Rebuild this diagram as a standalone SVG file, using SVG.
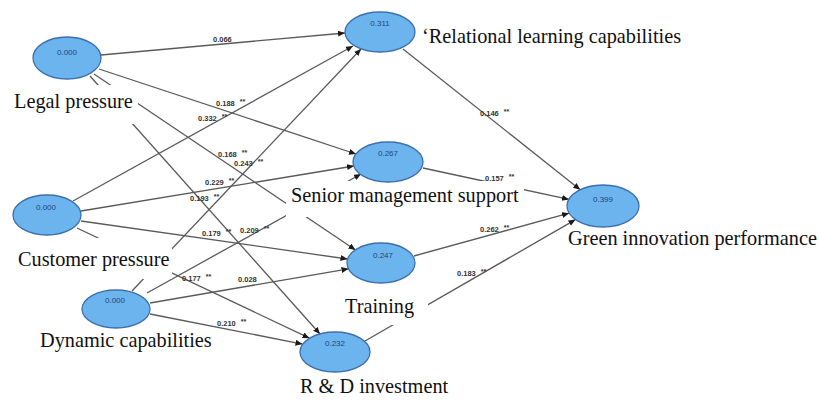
<svg xmlns="http://www.w3.org/2000/svg" width="819" height="404" viewBox="0 0 819 404">
<style>
.bg{fill:#ffffff}
.ln{stroke:#5a5a5a;stroke-width:1.3;fill:none;marker-end:url(#ah)}
.nd{fill:#6cb4ee;stroke:#3d6fae;stroke-width:1.3}
.v{font-family:"Liberation Sans",Arial,sans-serif;font-size:8px;fill:#23467a;text-anchor:middle}
.lb{font-family:"Liberation Serif","Times New Roman",serif;font-size:20.3px;fill:#111}
.box{fill:#ffffff}
.c{font-family:"Liberation Sans",Arial,sans-serif;font-size:7.5px;font-weight:bold;fill:#333}
.s{font-size:7px}
</style>
<defs>
<marker id="ah" markerUnits="userSpaceOnUse" markerWidth="8" markerHeight="7" refX="7" refY="3" orient="auto">
<path d="M0,0 L7,3 L0,6 z" fill="#1a1a1a"/>
</marker>
</defs>
<rect class="bg" x="0" y="0" width="819" height="404"/>
<g id="connectors">
<path class="ln" d="M101,55 L345,33"/>
<path class="ln" d="M99,69 L356,154"/>
<path class="ln" d="M94,74 L355.5,250"/>
<path class="ln" d="M90,76 L320,334"/>
<path class="ln" d="M73,201 L353,46"/>
<path class="ln" d="M81,211 L354,166"/>
<path class="ln" d="M81,221 L347.5,259"/>
<path class="ln" d="M77,228 L309.5,338.2"/>
<path class="ln" d="M132,291 L361,49"/>
<path class="ln" d="M147,293 L361,174"/>
<path class="ln" d="M150,303 L348.5,268.8"/>
<path class="ln" d="M150,314 L302.5,344.1"/>
<path class="ln" d="M403,49 L580.2,189.8"/>
<path class="ln" d="M423,168 L569,199.4"/>
<path class="ln" d="M414,256 L569,213.2"/>
<path class="ln" d="M365,341 L575.5,219.6"/>
</g>
<g id="legal-pressure">
<rect class="box" x="10" y="85" width="128" height="39"/>
<text class="lb" x="14" y="108">Legal pressure</text>
<ellipse class="nd" cx="67" cy="58" rx="34" ry="21"/>
<text class="v" x="67" y="55">0.000</text>
</g>
<g id="customer-pressure">
<rect class="box" x="14" y="238" width="158" height="41"/>
<text class="lb" x="18" y="266">Customer pressure</text>
<ellipse class="nd" cx="47" cy="215" rx="34" ry="20"/>
<text class="v" x="46" y="210">0.000</text>
</g>
<g id="dynamic-capabilities">
<text class="lb" x="40" y="347">Dynamic capabilities</text>
<ellipse class="nd" cx="116" cy="309" rx="34" ry="19"/>
<text class="v" x="115" y="303">0.000</text>
</g>
<g id="relational-learning">
<text class="lb" x="422" y="43">‘Relational learning capabilities</text>
<ellipse class="nd" cx="380" cy="32" rx="35" ry="20"/>
<text class="v" x="380" y="26">0.311</text>
</g>
<g id="senior-management">
<rect class="box" x="286" y="181" width="238" height="36"/>
<text class="lb" x="291" y="202">Senior management support</text>
<ellipse class="nd" cx="388" cy="162" rx="35" ry="20"/>
<text class="v" x="388" y="156">0.267</text>
</g>
<g id="training">
<rect class="box" x="341" y="297" width="87" height="28"/>
<text class="lb" x="345" y="313">Training</text>
<ellipse class="nd" cx="381" cy="263" rx="34" ry="20"/>
<text class="v" x="383" y="258">0.247</text>
</g>
<g id="rd-investment">
<text class="lb" x="300" y="393">R &amp; D investment</text>
<ellipse class="nd" cx="335" cy="352" rx="35" ry="20"/>
<text class="v" x="335" y="346">0.232</text>
</g>
<g id="green-innovation">
<text class="lb" x="568" y="245">Green innovation performance</text>
<ellipse class="nd" cx="603" cy="206" rx="36" ry="21"/>
<text class="v" x="603" y="202">0.399</text>
</g>
<g id="coefficients">
<text class="c" x="213" y="42">0.066</text>
<text class="c" x="216" y="106">0.188<tspan class="s" dx="5" dy="-2">**</tspan></text>
<text class="c" x="218" y="157">0.168<tspan class="s" dx="5" dy="-2">**</tspan></text>
<text class="c" x="190" y="201">0.193<tspan class="s" dx="5" dy="-2">**</tspan></text>
<text class="c" x="198" y="121">0.332<tspan class="s" dx="5" dy="-2">**</tspan></text>
<text class="c" x="205" y="185">0.229<tspan class="s" dx="5" dy="-2">**</tspan></text>
<text class="c" x="202" y="236">0.179<tspan class="s" dx="5" dy="-2">**</tspan></text>
<text class="c" x="182" y="281">0.177<tspan class="s" dx="5" dy="-2">**</tspan></text>
<text class="c" x="234" y="166">0.243<tspan class="s" dx="5" dy="-2">**</tspan></text>
<text class="c" x="240" y="233">0.209<tspan class="s" dx="5" dy="-2">**</tspan></text>
<text class="c" x="238" y="282">0.028</text>
<text class="c" x="217" y="326">0.210<tspan class="s" dx="5" dy="-2">**</tspan></text>
<text class="c" x="480" y="116">0.146<tspan class="s" dx="5" dy="-2">**</tspan></text>
<text class="c" x="485" y="181">0.157<tspan class="s" dx="5" dy="-2">**</tspan></text>
<text class="c" x="480" y="232">0.262<tspan class="s" dx="5" dy="-2">**</tspan></text>
<text class="c" x="457" y="276">0.183<tspan class="s" dx="5" dy="-2">**</tspan></text>
</g>
</svg>
